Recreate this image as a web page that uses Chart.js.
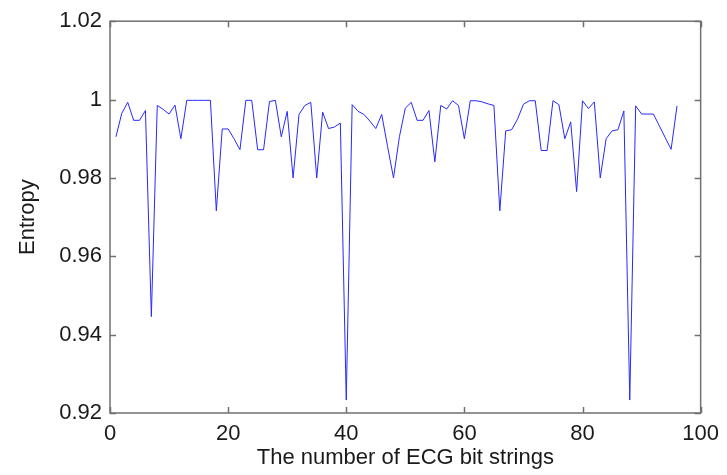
<!DOCTYPE html>
<html>
<head>
<meta charset="utf-8">
<script src="https://cdn.jsdelivr.net/npm/chart.js@4/dist/chart.umd.min.js"></script>
<style>
  body { margin: 0; background: #fff; }
</style>
</head>
<body>
<canvas id="entropy-chart" width="727" height="475"></canvas>
<script>
const bitStrings = Array.from({ length: 96 }, (_, i) => i + 1)

const entropy = [
  0.9905, 0.9965, 0.9993, 0.9947, 0.9947, 0.9972, 0.9446, 0.9985, 0.9975, 0.9963,
  0.9986, 0.9900, 0.9998, 0.9998, 0.9998, 0.9998, 0.9998, 0.9716, 0.9925, 0.9925,
  0.9900, 0.9872, 0.9998, 0.9998, 0.9872, 0.9872, 0.9995, 0.9998, 0.9905, 0.9970,
  0.9800, 0.9962, 0.9985, 0.9993, 0.9800, 0.9968, 0.9926, 0.9930, 0.9940, 0.9233,
  0.9987, 0.9970, 0.9962, 0.9945, 0.9926, 0.9962, 0.9880, 0.9800, 0.9905, 0.9978,
  0.9993, 0.9947, 0.9947, 0.9972, 0.9841, 0.9985, 0.9976, 0.9997, 0.9985, 0.9900,
  0.9997, 0.9997, 0.9994, 0.9989, 0.9985, 0.9716, 0.9920, 0.9923, 0.9950, 0.9988,
  0.9997, 0.9997, 0.9870, 0.9870, 0.9997, 0.9987, 0.9900, 0.9943, 0.9765, 0.9997,
  0.9977, 0.9994, 0.9800, 0.9900, 0.9920, 0.9923, 0.9971, 0.9233, 0.9984, 0.9963,
  0.9963, 0.9963, 0.9933, 0.9903, 0.9873, 0.9984
]

const xTicks = [0, 20, 40, 60, 80, 100]
const yTicks = [0.92, 0.94, 0.96, 0.98, 1, 1.02]

const FONT = { family: "'Liberation Sans', Arial, sans-serif", size: 22 }
const TEXT = '#1a1a1a'
const FRAME = '#707070'

// matlab-style box with inward ticks on all four sides
const boxFrame = {
  id: 'boxFrame',
  afterDraw (chart) {
    const { ctx, chartArea: a, scales: { x, y } } = chart
    const len = 6
    ctx.save()
    ctx.strokeStyle = FRAME
    ctx.lineWidth = 1.5
    ctx.strokeRect(a.left, a.top, a.right - a.left, a.bottom - a.top)
    ctx.beginPath()
    xTicks.forEach((v) => {
      const px = Math.round(x.getPixelForValue(v)) + 0.5
      ctx.moveTo(px, a.bottom); ctx.lineTo(px, a.bottom - len)
      ctx.moveTo(px, a.top); ctx.lineTo(px, a.top + len)
    })
    yTicks.forEach((v) => {
      const py = Math.round(y.getPixelForValue(v)) + 0.5
      ctx.moveTo(a.left, py); ctx.lineTo(a.left + len, py)
      ctx.moveTo(a.right, py); ctx.lineTo(a.right - len, py)
    })
    ctx.stroke()
    ctx.restore()
  }
}

new Chart(document.getElementById('entropy-chart'), {
  type: 'line',
  data: {
    datasets: [{
      data: bitStrings.map((n, i) => ({ x: n, y: entropy[i] })),
      borderColor: 'rgb(40, 40, 255)',
      borderWidth: 1,
      pointRadius: 0,
      tension: 0,
      fill: false
    }]
  },
  options: {
    responsive: false,
    animation: false,
    layout: { padding: { top: 18, right: 25, left: 0, bottom: 0 } },
    plugins: {
      legend: { display: false },
      tooltip: { enabled: false }
    },
    scales: {
      x: {
        type: 'linear',
        min: 0,
        max: 100,
        afterFit: (scale) => { scale.height = 62 },
        afterBuildTicks: (scale) => { scale.ticks = xTicks.map((v) => ({ value: v })) },
        grid: { display: false, drawTicks: false },
        border: { display: false },
        ticks: { color: TEXT, font: FONT, padding: 8, maxRotation: 0 },
        title: {
          display: true,
          text: 'The number of ECG bit strings',
          color: TEXT,
          font: FONT,
          padding: { top: 0, bottom: 4 }
        }
      },
      y: {
        min: 0.92,
        max: 1.02,
        afterFit: (scale) => { scale.width = 110 },
        afterBuildTicks: (scale) => { scale.ticks = yTicks.map((v) => ({ value: v })) },
        grid: { display: false, drawTicks: false },
        border: { display: false },
        ticks: {
          color: TEXT,
          font: FONT,
          padding: 8,
          callback: (v) => parseFloat(Number(v).toFixed(2)).toString()
        },
        title: {
          display: true,
          text: 'Entropy',
          color: TEXT,
          font: FONT,
          padding: { top: 15, bottom: 0 }
        }
      }
    }
  },
  plugins: [boxFrame]
})
</script>
</body>
</html>
